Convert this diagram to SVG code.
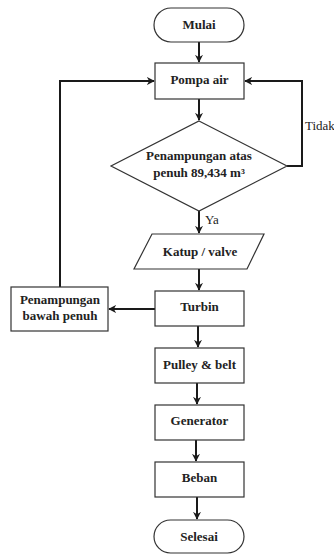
<svg xmlns="http://www.w3.org/2000/svg" width="334" height="554" viewBox="0 0 334 554">
<style>
.shape{fill:#fff;stroke:#333;stroke-width:1.2}
.c{fill:none;stroke:#1a1a1a;stroke-width:2;marker-end:url(#ah)}
</style>
<defs>
<marker id="ah" viewBox="0 0 10 10" refX="9" refY="5" markerWidth="4" markerHeight="4" orient="auto" markerUnits="strokeWidth">
<path d="M0,0 L10,5 L0,10 L3,5 Z" fill="#1a1a1a"/>
</marker>
</defs>
<rect width="334" height="554" fill="#fff"/>
<g id="connectors">
<line class="c" x1="199" y1="42" x2="199" y2="62"/>
<line class="c" x1="199" y1="99" x2="199" y2="120"/>
<polyline class="c" points="287,166 302,166 302,81 245,81"/>
<polyline class="c" points="60,287 60,81 154,81"/>
<line class="c" x1="199" y1="211" x2="199" y2="233"/>
<line class="c" x1="199" y1="269" x2="199" y2="290"/>
<line class="c" x1="155" y1="309" x2="109" y2="309"/>
<line class="c" x1="198" y1="326" x2="198" y2="347"/>
<line class="c" x1="197" y1="383" x2="197" y2="404"/>
<line class="c" x1="196" y1="440" x2="196" y2="461"/>
<line class="c" x1="197" y1="497" x2="197" y2="519"/>
<text font-family="'Liberation Serif'" font-size="13" fill="#222" x="305" y="130">Tidak</text>
<text font-family="'Liberation Serif'" font-size="13" fill="#222" x="205" y="224">Ya</text>
</g>
<g id="mulai">
<rect class="shape" x="154" y="8" width="90" height="34" rx="17"/>
<text font-family="'Liberation Serif'" font-weight="bold" font-size="13" fill="#222" text-anchor="middle" x="199" y="29">Mulai</text>
</g>
<g id="pompa">
<rect class="shape" x="155" y="63" width="89" height="36"/>
<text font-family="'Liberation Serif'" font-weight="bold" font-size="13" fill="#222" text-anchor="middle" x="199.5" y="84">Pompa air</text>
</g>
<g id="decision">
<polygon class="shape" points="199,121 287,166 199,211 111,166"/>
<text font-family="'Liberation Serif'" font-weight="bold" font-size="13" fill="#222" text-anchor="middle" x="199" y="160">Penampungan atas</text>
<text font-family="'Liberation Serif'" font-weight="bold" font-size="13" fill="#222" text-anchor="middle" x="199" y="177">penuh 89,434 m³</text>
</g>
<g id="katup">
<polygon class="shape" points="152,234 264,234 247,269 134,269"/>
<text font-family="'Liberation Serif'" font-weight="bold" font-size="13" fill="#222" text-anchor="middle" x="200" y="256">Katup / valve</text>
</g>
<g id="turbin">
<rect class="shape" x="155" y="291" width="89" height="35"/>
<text font-family="'Liberation Serif'" font-weight="bold" font-size="13" fill="#222" text-anchor="middle" x="199.5" y="311">Turbin</text>
</g>
<g id="penampungan-bawah">
<rect class="shape" x="11" y="287" width="97" height="44"/>
<text font-family="'Liberation Serif'" font-weight="bold" font-size="13" fill="#222" text-anchor="middle" x="60" y="304">Penampungan</text>
<text font-family="'Liberation Serif'" font-weight="bold" font-size="13" fill="#222" text-anchor="middle" x="60" y="320">bawah penuh</text>
</g>
<g id="pulley">
<rect class="shape" x="155" y="348" width="89" height="35"/>
<text font-family="'Liberation Serif'" font-weight="bold" font-size="13" fill="#222" text-anchor="middle" x="199.5" y="369">Pulley &amp; belt</text>
</g>
<g id="generator">
<rect class="shape" x="155" y="405" width="89" height="35"/>
<text font-family="'Liberation Serif'" font-weight="bold" font-size="13" fill="#222" text-anchor="middle" x="199.5" y="425">Generator</text>
</g>
<g id="beban">
<rect class="shape" x="155" y="462" width="89" height="35"/>
<text font-family="'Liberation Serif'" font-weight="bold" font-size="13" fill="#222" text-anchor="middle" x="199.5" y="482">Beban</text>
</g>
<g id="selesai">
<rect class="shape" x="154" y="520" width="90" height="33" rx="16.5"/>
<text font-family="'Liberation Serif'" font-weight="bold" font-size="13" fill="#222" text-anchor="middle" x="199" y="541">Selesai</text>
</g>
</svg>
